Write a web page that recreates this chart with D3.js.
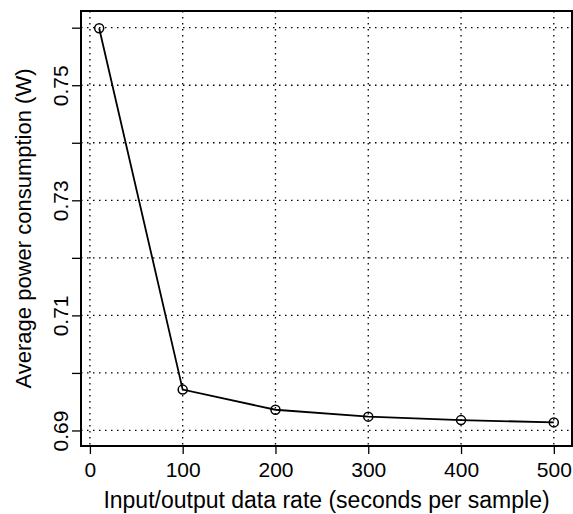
<!DOCTYPE html>
<html>
<head>
<meta charset="utf-8">
<script src="https://cdn.jsdelivr.net/npm/d3@7"></script>
<style>
  body { margin: 0; background: #fff; }
  svg text { font-family: "Liberation Sans", Arial, sans-serif; fill: #000; }
</style>
</head>
<body>
<svg id="chart" width="573" height="514"></svg>
<script>
// data
const rates = [10, 100, 200, 300, 400, 500];
const power = [0.7599, 0.6971, 0.6936, 0.6924, 0.6918, 0.6914];
const xTicks = [0, 100, 200, 300, 400, 500];
const yTicks = [0.69, 0.70, 0.71, 0.72, 0.73, 0.74, 0.75, 0.76];
const yLabels = [0.69, 0.71, 0.73, 0.75];

const svg = d3.select("#chart");
const margin = { top: 11, right: 1, bottom: 68, left: 81 };
const width = 573 - margin.left - margin.right;
const height = 514 - margin.top - margin.bottom;

const x = d3.scaleLinear().domain([-9.6, 519.6]).range([0, width]);
const y = d3.scaleLinear().domain([0.6873, 0.7629]).range([height, 0]);

const g = svg.append("g")
  .attr("transform", `translate(${margin.left},${margin.top})`);

// dotted grid
g.selectAll("line.vgrid")
  .data(xTicks)
  .enter()
  .append("line")
  .attr("class", "vgrid")
  .attr("x1", (d) => x(d))
  .attr("x2", (d) => x(d))
  .attr("y1", 0)
  .attr("y2", height)
  .attr("stroke", "#000")
  .attr("stroke-width", 1.3)
  .attr("stroke-dasharray", "1.5,4.5");

g.selectAll("line.hgrid")
  .data(yTicks)
  .enter()
  .append("line")
  .attr("class", "hgrid")
  .attr("x1", 0)
  .attr("x2", width)
  .attr("y1", (d) => y(d))
  .attr("y2", (d) => y(d))
  .attr("stroke", "#000")
  .attr("stroke-width", 1.3)
  .attr("stroke-dasharray", "1.5,4.5");

// axes, R style
const xAxis = d3.axisBottom(x).tickValues(xTicks).tickSize(8);
const xAxisG = g.append("g")
  .attr("transform", `translate(0,${height})`)
  .call(xAxis);
xAxisG.select(".domain").remove();
xAxisG.selectAll("line").attr("stroke-width", 1.3);
xAxisG.selectAll("text")
  .style("font-size", "21px")
  .attr("y", 31)
  .attr("dy", null);

const yAxis = d3.axisLeft(y)
  .tickValues(yTicks)
  .tickSize(9)
  .tickFormat((d) => (yLabels.some((v) => Math.abs(v - d) < 1e-9) ? d3.format(".2f")(d) : ""));
const yAxisG = g.append("g").call(yAxis);
yAxisG.select(".domain").remove();
yAxisG.selectAll("line").attr("stroke-width", 1.3);
yAxisG.selectAll("text")
  .style("font-size", "21px")
  .attr("x", null)
  .attr("dy", null)
  .attr("text-anchor", "middle")
  .attr("transform", "translate(-13,0) rotate(-90)");

// line and open circles
const line = d3.line()
  .x((d, i) => x(rates[i]))
  .y((d) => y(d));

g.append("path")
  .datum(power)
  .attr("d", line)
  .attr("fill", "none")
  .attr("stroke", "#000")
  .attr("stroke-width", 1.8);

g.selectAll("circle")
  .data(power)
  .enter()
  .append("circle")
  .attr("cx", (d, i) => x(rates[i]))
  .attr("cy", (d) => y(d))
  .attr("r", 4.5)
  .attr("fill", "none")
  .attr("stroke", "#000")
  .attr("stroke-width", 1.5);

// plot box
g.append("rect")
  .attr("x", 0)
  .attr("y", 0)
  .attr("width", width)
  .attr("height", height)
  .attr("fill", "none")
  .attr("stroke", "#000")
  .attr("stroke-width", 2);

// axis titles
svg.append("text")
  .attr("x", margin.left + width / 2)
  .attr("y", 508)
  .attr("text-anchor", "middle")
  .style("font-size", "23px")
  .text("Input/output data rate (seconds per sample)");

svg.append("text")
  .attr("transform", `translate(31,${margin.top + height / 2}) rotate(-90)`)
  .attr("text-anchor", "middle")
  .style("font-size", "22px")
  .text("Average power consumption (W)");
</script>
</body>
</html>
